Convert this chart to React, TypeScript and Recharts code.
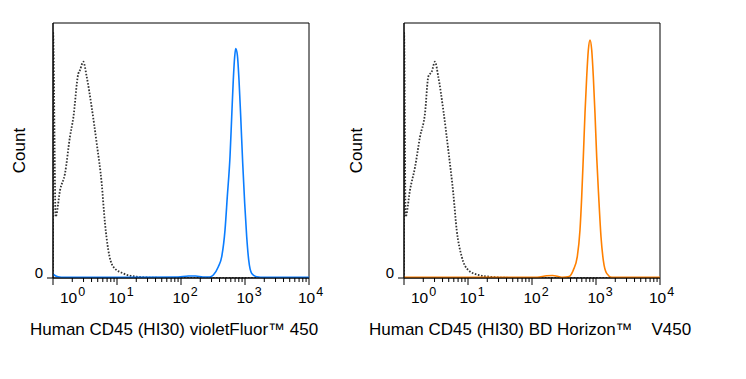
import React from 'react';
import { LineChart, Line, XAxis, YAxis, ReferenceArea } from 'recharts';

// decade ticks + minor ticks on the log axis
const MAJOR_TICKS = [1, 10, 100, 1000, 10000];
const MINOR_STEPS = [2, 3, 4, 5, 6, 7, 8, 9];
const X_TICKS = MAJOR_TICKS.flatMap((d, i) => (i < MAJOR_TICKS.length - 1 ? [d, ...MINOR_STEPS.map((m) => d * m)] : [d]));
const Y_TICKS = [0];

// isotype control (dotted), left panel
const ISO_LEFT_X = [1, 1.003, 1.1, 1.29, 1.54, 1.84, 2.08, 2.48, 2.64, 2.97, 3.36, 4.02, 4.82, 5.77, 6.49, 7.31, 8.75, 12.5, 20.3, 40, 100, 1000, 10000];
const ISO_LEFT_Y = [0, 96.5, 24, 34.5, 41, 55.4, 63, 80, 81.5, 84.8, 79, 67, 52.8, 37, 21.4, 11, 4.4, 1.8, 0.5, 0.1, 0, 0, 0];

// violetFluor 450 stained
const BLUE_X = [1, 1.2, 1.5, 3, 20, 90, 130, 170, 220, 280, 320, 383, 433, 487, 529, 583, 620, 656, 690, 716, 759, 806, 857, 921, 989, 1063, 1143, 1274, 1524, 2000, 10000];
const BLUE_Y = [1.5, 0.5, 0.3, 0.3, 0.3, 0.4, 0.8, 0.8, 0.4, 0.4, 1.2, 4.4, 8.4, 18.8, 31.9, 47.6, 63.3, 77.6, 86.8, 90, 87.5, 77.6, 63.3, 45, 29.3, 16.2, 7, 1.8, 0.5, 0.3, 0.3];

// isotype control (dotted), right panel
const ISO_RIGHT_X = [1, 1.003, 1.06, 1.24, 1.49, 1.78, 2.13, 2.4, 2.71, 3.05, 3.43, 4.11, 4.92, 5.89, 6.66, 7.97, 10.1, 14.5, 22.1, 40, 100, 1000, 10000];
const ISO_RIGHT_Y = [0, 96.5, 24, 34.5, 43.6, 55.4, 64.6, 79, 80.9, 84.8, 79, 65.9, 50.2, 33.2, 18.8, 8.4, 3.1, 1.2, 0.5, 0.1, 0, 0, 0];

// BD Horizon V450 stained
const ORANGE_X = [1, 20, 120, 170, 210, 250, 300, 380, 442, 510, 562, 598, 634, 673, 716, 759, 806, 857, 908, 964, 1025, 1102, 1197, 1300, 1469, 1759, 2500, 10000];
const ORANGE_Y = [0.3, 0.3, 0.3, 0.9, 1.0, 0.7, 0.3, 0.6, 3.1, 8.4, 18.8, 31.9, 47.6, 64.6, 79, 89.4, 93.3, 89.4, 79, 64.6, 47.6, 31.9, 16.2, 7, 1.8, 0.3, 0.3, 0.3];

const toPoints = (xs: number[], ys: number[]) => xs.map((x, i) => ({ x, y: ys[i] }));

const FONT = '"Liberation Sans", Arial, sans-serif';

const LogTick = (props: any) => {
  const { x, y, payload } = props;
  const v = payload.value;
  const exp = Math.round(Math.log10(v));
  const major = MAJOR_TICKS.includes(v);
  // end labels are pushed inward like the original
  const off = exp === 0 ? 7 : exp === 4 ? -11 : -8.5;
  return (
    <g>
      <line x1={x} x2={x} y1={y} y2={y + (major ? 7 : 4)} stroke="#000" strokeWidth={1} />
      {major && (
        <text x={x + off} y={y + 25} fontSize={15.5} fontFamily={FONT} fill="#000">
          <tspan>10</tspan>
          <tspan dx={1} dy={-7} fontSize={12.5}>{exp}</tspan>
        </text>
      )}
    </g>
  );
};

const ZeroTick = (props: any) => {
  const { x, y, payload } = props;
  return (
    <text x={x} y={y} textAnchor="end" fontSize={15} fontFamily={FONT} fill="#000">{payload.value}</text>
  );
};

function Panel({ left, width, axisWidth, countX, titleX, title, iso, stain, color }: any) {
  return (
    <div style={{ position: 'absolute', left, top: 0 }}>
      <LineChart width={width} height={379} margin={{ top: 23, right: width - axisWidth - 256, bottom: 0, left: 0 }}>
        <XAxis
          type="number"
          dataKey="x"
          scale="log"
          domain={[1, 10000]}
          ticks={X_TICKS}
          interval={0}
          tick={<LogTick />}
          tickLine={false}
          tickSize={0}
          tickMargin={0}
          axisLine={{ stroke: '#000' }}
          height={101}
          allowDataOverflow
          label={() => (
            <text x={titleX} y={335} fontSize={17} fontFamily={FONT} fill="#000" style={{ whiteSpace: 'pre' }}>{title}</text>
          )}
        />
        <YAxis
          type="number"
          dataKey="y"
          domain={[0, 100]}
          ticks={Y_TICKS}
          width={axisWidth}
          tickSize={6}
          tickMargin={4}
          tickLine={{ stroke: '#000' }}
          axisLine={{ stroke: '#000' }}
          tick={<ZeroTick />}
          allowDataOverflow
          label={() => (
            <text x={countX} y={150.5} transform={`rotate(-90 ${countX} 150.5)`} textAnchor="middle" dominantBaseline="central" fontSize={17} fontFamily={FONT} fill="#000">Count</text>
          )}
        />
        <ReferenceArea x1={1} x2={10000} y1={0} y2={100} fill="none" stroke="#000" strokeWidth={1} ifOverflow="visible" />
        <Line data={iso} dataKey="y" type="monotone" stroke="#333" strokeWidth={1.8} strokeDasharray="1.6 1.6" dot={false} activeDot={false} isAnimationActive={false} />
        <Line data={stain} dataKey="y" type="monotone" stroke={color} strokeWidth={1.6} dot={false} activeDot={false} isAnimationActive={false} />
      </LineChart>
    </div>
  );
}

export default function App() {
  return (
    <div style={{ position: 'absolute', left: 0, top: 0, width: 746, height: 379, background: '#fff', fontFamily: FONT }}>
      <Panel
        left={0}
        width={340}
        axisWidth={53}
        countX={19}
        titleX={30}
        title="Human CD45 (HI30) violetFluor™ 450"
        iso={toPoints(ISO_LEFT_X, ISO_LEFT_Y)}
        stain={toPoints(BLUE_X, BLUE_Y)}
        color="#0a7dff"
      />
      <Panel
        left={340}
        width={406}
        axisWidth={64}
        countX={16.7}
        titleX={29}
        title="Human CD45 (HI30) BD Horizon™    V450"
        iso={toPoints(ISO_RIGHT_X, ISO_RIGHT_Y)}
        stain={toPoints(ORANGE_X, ORANGE_Y)}
        color="#ff8000"
      />
    </div>
  );
}
